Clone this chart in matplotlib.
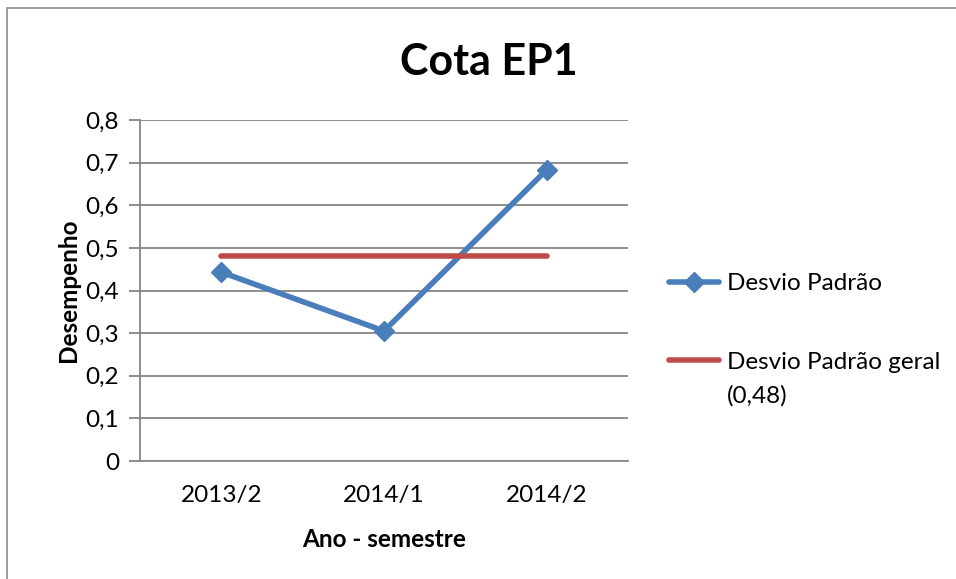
import matplotlib.pyplot as plt
from matplotlib.patches import Rectangle
from matplotlib.ticker import FuncFormatter

plt.rcParams['font.family'] = ['Lato', 'DejaVu Sans']

semestres = ['2013/2', '2014/1', '2014/2']
desvio = [0.443, 0.305, 0.683]
desvio_geral = 0.48
yticks = [0, 0.1, 0.2, 0.3, 0.4, 0.5, 0.6, 0.7, 0.8]

blue = '#4a7ebb'
red = '#be4b48'
grid = '#868686'

fig = plt.figure(figsize=(9.56, 5.79), dpi=100)
fig.patches.append(Rectangle((7 / 956, -0.1), 1.2, (579 - 8) / 579 + 0.1,
                             transform=fig.transFigure, fill=False,
                             edgecolor='#8c8c8c', linewidth=1.2))

ax = fig.add_axes([140 / 956, (579 - 461) / 579, (628 - 140) / 956, (461 - 120) / 579])
x = range(len(semestres))
ax.plot(x, desvio, color=blue, linewidth=4, marker='D', markersize=10,
        label='Desvio Padrão', solid_capstyle='round')
ax.plot(x, [desvio_geral] * len(semestres), color=red, linewidth=4,
        label='Desvio Padrão geral', solid_capstyle='round')

ax.set_xlim(-0.5, 2.5)
ax.set_ylim(0, 0.8)
ax.set_yticks(yticks)
ax.yaxis.set_major_formatter(FuncFormatter(lambda v, p: '0' if v == 0 else f'{v:.1f}'.replace('.', ',')))
ax.set_xticks(list(x))
ax.set_xticklabels(semestres)
ax.grid(axis='y', color=grid, linewidth=1.3)
ax.set_axisbelow(True)
for s in ['top', 'right']:
    ax.spines[s].set_visible(False)
for s in ['left', 'bottom']:
    ax.spines[s].set_color(grid)
    ax.spines[s].set_linewidth(1.3)
ax.tick_params(axis='y', length=8, color=grid, width=1.3, labelsize=17.5, pad=7)
ax.tick_params(axis='x', length=0, labelsize=17.5, pad=17)

ax.set_xlabel('Ano - semestre', fontsize=17.5, fontweight='bold', labelpad=16)
ax.set_ylabel('Desempenho', fontsize=17.5, fontweight='bold', labelpad=4)
fig.text(489 / 956, 1 - 62 / 579, 'Cota EP1', ha='center', va='center',
         fontsize=31, fontweight='bold')

leg = ax.legend(loc='upper left', bbox_to_anchor=(1.04, 0.615), frameon=False,
                fontsize=17.5, handlelength=2.05, labelspacing=2.36, handletextpad=0.3)
# second line of the red label, under "Desvio Padrão geral"
ax.annotate('(0,48)', xy=(0, 0), xycoords=leg.get_texts()[1],
            xytext=(0, -9), textcoords='offset points',
            ha='left', va='top', fontsize=17.5, zorder=10)

fig.savefig('out.png', dpi=100)
